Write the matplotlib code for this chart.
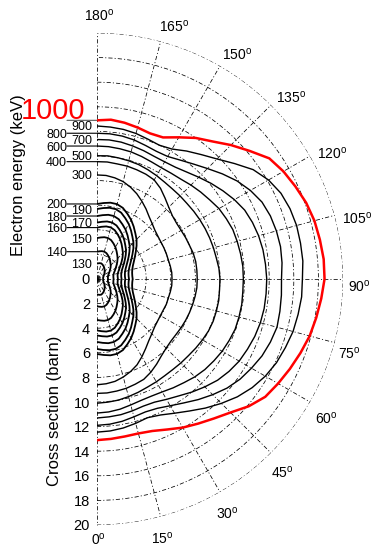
import numpy as np
import matplotlib
matplotlib.use("Agg")
import matplotlib.pyplot as plt

plt.rcParams['font.family'] = ['Liberation Sans', 'DejaVu Sans']
plt.rcParams['mathtext.fontset'] = 'custom'
plt.rcParams['mathtext.rm'] = 'Liberation Sans'
plt.rcParams['mathtext.it'] = 'Liberation Sans:italic'
plt.rcParams['lines.scale_dashes'] = False

# Scattering angle samples (degrees)
angles_deg = [0, 5, 10, 15, 20, 25, 30, 35, 40, 45, 50, 55, 60, 65, 70, 75, 80, 85,
              90, 95, 100, 105, 110, 115, 120, 125, 130, 135, 140, 145, 150, 155, 160,
              165, 170, 175, 180]

energies_kev = [130, 140, 150, 160, 170, 180, 190, 200, 300, 400, 500, 600, 700, 800, 900, 1000]

# Differential cross section (barn) versus angle, one list per electron energy
xs_130 = [1.26, 1.28, 1.31, 1.31, 1.27, 1.20, 1.13, 1.05, 0.96, 0.89, 0.81, 0.73, 0.65, 0.60, 0.55, 0.52, 0.50, 0.50,
          0.50, 0.50, 0.50, 0.52, 0.55, 0.60, 0.65, 0.73, 0.81, 0.89, 0.96, 1.05, 1.13, 1.20, 1.27, 1.31, 1.31, 1.28, 1.26]
xs_140 = [2.22, 2.26, 2.30, 2.30, 2.24, 2.12, 1.99, 1.85, 1.70, 1.58, 1.44, 1.29, 1.17, 1.07, 0.98, 0.93, 0.90, 0.89,
          0.90, 0.89, 0.90, 0.93, 0.98, 1.07, 1.17, 1.29, 1.44, 1.58, 1.70, 1.85, 1.99, 2.12, 2.24, 2.30, 2.30, 2.26, 2.22]
xs_150 = [3.33, 3.39, 3.45, 3.45, 3.36, 3.18, 2.99, 2.77, 2.56, 2.37, 2.15, 1.94, 1.75, 1.60, 1.47, 1.39, 1.35, 1.34,
          1.35, 1.34, 1.35, 1.39, 1.47, 1.60, 1.75, 1.94, 2.15, 2.37, 2.56, 2.77, 2.99, 3.18, 3.36, 3.45, 3.45, 3.39, 3.33]
xs_160 = [4.18, 4.26, 4.34, 4.34, 4.22, 3.99, 3.75, 3.48, 3.21, 2.98, 2.71, 2.44, 2.20, 2.01, 1.86, 1.75, 1.70, 1.69,
          1.70, 1.69, 1.70, 1.75, 1.86, 2.01, 2.20, 2.44, 2.71, 2.98, 3.21, 3.48, 3.75, 3.99, 4.22, 4.34, 4.34, 4.26, 4.18]
xs_170 = [4.59, 4.67, 4.75, 4.75, 4.63, 4.39, 4.14, 3.86, 3.58, 3.34, 3.05, 2.77, 2.53, 2.32, 2.16, 2.06, 2.00, 1.98,
          2.00, 1.98, 2.00, 2.06, 2.16, 2.32, 2.53, 2.77, 3.05, 3.34, 3.58, 3.86, 4.14, 4.39, 4.63, 4.75, 4.75, 4.67, 4.59]
xs_180 = [5.12, 5.21, 5.30, 5.30, 5.17, 4.90, 4.64, 4.33, 4.02, 3.76, 3.44, 3.14, 2.87, 2.65, 2.48, 2.36, 2.30, 2.28,
          2.30, 2.28, 2.30, 2.36, 2.48, 2.65, 2.87, 3.14, 3.44, 3.76, 4.02, 4.33, 4.64, 4.90, 5.17, 5.30, 5.30, 5.21, 5.12]
xs_190 = [5.69, 5.79, 5.88, 5.88, 5.74, 5.45, 5.16, 4.82, 4.48, 4.19, 3.86, 3.52, 3.23, 2.99, 2.80, 2.67, 2.60, 2.58,
          2.60, 2.58, 2.60, 2.67, 2.80, 2.99, 3.23, 3.52, 3.86, 4.19, 4.48, 4.82, 5.16, 5.45, 5.74, 5.88, 5.88, 5.79, 5.69]
xs_200 = [6.10, 6.20, 6.30, 6.30, 6.15, 5.85, 5.55, 5.20, 4.85, 4.55, 4.20, 3.85, 3.55, 3.30, 3.10, 2.97, 2.90, 2.88,
          2.90, 2.88, 2.90, 2.97, 3.10, 3.30, 3.55, 3.85, 4.20, 4.55, 4.85, 5.20, 5.55, 5.85, 6.15, 6.30, 6.30, 6.20, 6.10]
xs_300 = [8.60, 8.55, 8.45, 8.25, 8.00, 7.70, 7.30, 6.90, 6.55, 6.30, 6.10, 6.00, 5.95, 5.95, 6.00, 6.00, 6.05, 6.10,
          6.10, 6.10, 6.05, 6.00, 6.00, 6.00, 6.00, 6.05, 6.15, 6.35, 6.60, 6.95, 7.30, 7.65, 7.95, 8.20, 8.35, 8.45, 8.46]
xs_400 = [9.30, 9.30, 9.25, 9.20, 9.10, 9.00, 8.75, 8.45, 8.15, 7.95, 7.85, 7.85, 7.90, 7.95, 8.00, 8.05, 8.10, 8.15,
          8.15, 8.15, 8.15, 8.10, 8.00, 7.95, 7.90, 7.90, 8.00, 8.25, 8.60, 9.00, 9.30, 9.40, 9.45, 9.50, 9.50, 9.55, 9.54]
xs_500 = [10.10, 10.05, 10.00, 9.90, 9.80, 9.70, 9.65, 9.60, 9.60, 9.65, 9.70, 9.80, 9.90, 10.00, 10.05, 10.05, 10.05, 10.00,
          10.00, 9.95, 9.85, 9.80, 9.75, 9.70, 9.65, 9.60, 9.55, 9.55, 9.55, 9.60, 9.70, 9.80, 9.90, 9.95, 10.00, 10.05, 10.02]
xs_600 = [10.90, 10.85, 10.75, 10.60, 10.50, 10.50, 10.60, 10.80, 11.00, 11.25, 11.45, 11.60, 11.75, 11.85, 11.95, 11.95, 11.95, 11.90,
          11.90, 11.90, 11.85, 11.80, 11.75, 11.60, 11.45, 11.20, 11.00, 10.80, 10.60, 10.50, 10.45, 10.50, 10.60, 10.70, 10.75, 10.80, 10.81]
xs_700 = [11.30, 11.25, 11.20, 11.10, 11.00, 11.05, 11.30, 11.60, 12.00, 12.40, 12.80, 13.10, 13.35, 13.50, 13.65, 13.75, 13.80, 13.80,
          13.80, 13.75, 13.70, 13.60, 13.45, 13.25, 12.90, 12.50, 12.10, 11.70, 11.35, 11.10, 11.00, 11.00, 11.10, 11.20, 11.30, 11.35, 11.34]
xs_800 = [11.90, 11.85, 11.75, 11.60, 11.50, 11.60, 11.90, 12.30, 12.80, 13.30, 13.80, 14.20, 14.50, 14.80, 15.00, 15.15, 15.10, 15.05,
          15.00, 15.10, 15.15, 15.10, 15.00, 14.80, 14.40, 13.90, 13.30, 12.70, 12.20, 11.80, 11.50, 11.45, 11.55, 11.70, 11.80, 11.85, 11.85]
xs_900 = [12.45, 12.40, 12.30, 12.15, 12.00, 12.20, 12.60, 13.10, 13.70, 14.30, 14.90, 15.40, 15.80, 16.10, 16.30, 16.50, 16.60, 16.70,
          16.70, 16.80, 16.80, 16.80, 16.70, 16.50, 16.10, 15.50, 14.60, 13.80, 13.20, 12.70, 12.20, 12.00, 12.10, 12.25, 12.35, 12.40, 12.44]
xs_1000 = [13.10, 13.05, 13.00, 13.00, 13.15, 13.50, 13.95, 14.35, 14.80, 15.35, 16.10, 16.70, 17.00, 17.30, 17.60, 17.90, 18.10, 18.30,
           18.50, 18.50, 18.40, 18.30, 18.10, 17.80, 17.50, 17.10, 16.20, 15.40, 14.60, 14.00, 13.30, 12.70, 12.60, 12.75, 12.90, 13.00, 12.90]

curves = [xs_130, xs_140, xs_150, xs_160, xs_170, xs_180, xs_190, xs_200,
          xs_300, xs_400, xs_500, xs_600, xs_700, xs_800, xs_900, xs_1000]

# Energy labels: one column with leader lines, one column beside the axis
lined_labels = [140, 160, 180, 200, 400, 600, 800]
side_labels = [130, 150, 170, 190, 300, 500, 700, 900]
highlight_energy = 1000

radial_ticks = [0, 2, 4, 6, 8, 10, 12, 14, 16, 18, 20]
angle_ticks = [0, 15, 30, 45, 60, 75, 90, 105, 120, 135, 150, 165, 180]

W, H = 371, 547
fig = plt.figure(figsize=(W / 100, H / 100), dpi=100)
# pole position and outer radius in pixels; the half disc sits in a square box
cx, cy, R = 97, 279, 246
ax = fig.add_axes([(cx - R / 2) / W, (H - cy - R) / H, 2 * R / W, 2 * R / H], projection='polar')
ax.set_theta_zero_location('S')
ax.set_theta_direction(1)
ax.set_thetamin(0)
ax.set_thetamax(180)
ax.set_ylim(0, 20)

grid_style = dict(color='black', linewidth=0.55, linestyle=(0, (3.0, 1.5, 0.8, 1.5)))
inner_angles = [t for t in angle_ticks if 0 < t < 180]
ax.set_xticks(np.deg2rad(inner_angles))
ax.set_yticks(radial_ticks[1:])
ax.set_xticklabels([])
ax.set_yticklabels([])
ax.grid(True, **grid_style)
ax.tick_params(length=0)
# polar axes re-enable the wedge edge spines when drawing, so blank them instead
for sp in ax.spines.values():
    sp.set_color('none')
    sp.set_linewidth(0)
# the 0 and 180 degree rays, drawn with the same dash-dot style
for t in (0, 180):
    ax.plot([np.deg2rad(t)] * 2, [0, 20], clip_on=False, zorder=1, **grid_style)

theta = np.deg2rad(angles_deg)
for e, vals in zip(energies_kev, curves):
    if e == highlight_energy:
        ax.plot(theta, vals, color='#ff0000', lw=1.8, zorder=4)
    elif e <= 200:
        ax.plot(theta, vals, color='black', lw=1.3, zorder=3)
    else:
        ax.plot(theta, vals, color='black', lw=1.0, zorder=3)

end_value = {e: vals[-1] for e, vals in zip(energies_kev, curves)}

# Angle labels (numbers centred on the ray, degree sign trailing)
for t in angle_ticks:
    if t == 0:
        r_lab, t_lab, off = 21.0, 0, (1.5, -2)
    else:
        r_lab = 21.15 if t in (75, 90) else 21.55
        t_lab = t if t == 180 else t - 1.3
        off = (2.5, -2)
    ax.annotate(r'$\mathrm{%d^o}$' % t, xy=(np.deg2rad(t_lab), r_lab), xytext=off,
                textcoords='offset pixels', ha='center', va='center',
                fontsize=10, annotation_clip=False)

# Cross-section labels along the 0 degree axis
for r in radial_ticks:
    ax.annotate(str(r), xy=(0, r), xytext=(-7, 0), textcoords='offset pixels',
                ha='right', va='center_baseline', fontsize=10.5, annotation_clip=False)

# Energy labels along the 180 degree axis
for e in lined_labels:
    r = end_value[e]
    ax.annotate('', xy=(np.pi, r), xytext=(-30, 0), textcoords='offset pixels',
                arrowprops=dict(arrowstyle='-', color='black', lw=0.8, shrinkA=0, shrinkB=0),
                annotation_clip=False)
    ax.annotate(str(e), xy=(np.pi, r), xytext=(-30, 0), textcoords='offset pixels',
                ha='right', va='center_baseline', fontsize=9, annotation_clip=False)
for e in side_labels:
    r = end_value[e]
    ax.annotate(str(e), xy=(np.pi, r), xytext=(-5, 0), textcoords='offset pixels',
                ha='right', va='center_baseline', fontsize=9, annotation_clip=False)

r = end_value[highlight_energy]
ax.annotate('', xy=(np.pi, r), xytext=(-30, 0), textcoords='offset pixels',
            arrowprops=dict(arrowstyle='-', color='0.35', lw=0.8, shrinkA=0, shrinkB=0),
            annotation_clip=False)
ax.annotate(str(highlight_energy), xy=(np.pi, r), xytext=(-12, 1), textcoords='offset pixels',
            ha='right', va='baseline', fontsize=21, color='#ff0000', annotation_clip=False)

fig.text(19 / W, 1 - 175 / H, 'Electron energy (keV)', rotation=90,
         ha='center', va='center', fontsize=12)
fig.text(54 / W, 1 - 411 / H, 'Cross section (barn)', rotation=90,
         ha='center', va='center', fontsize=12)

fig.savefig('out.png', dpi=100, facecolor='white')
